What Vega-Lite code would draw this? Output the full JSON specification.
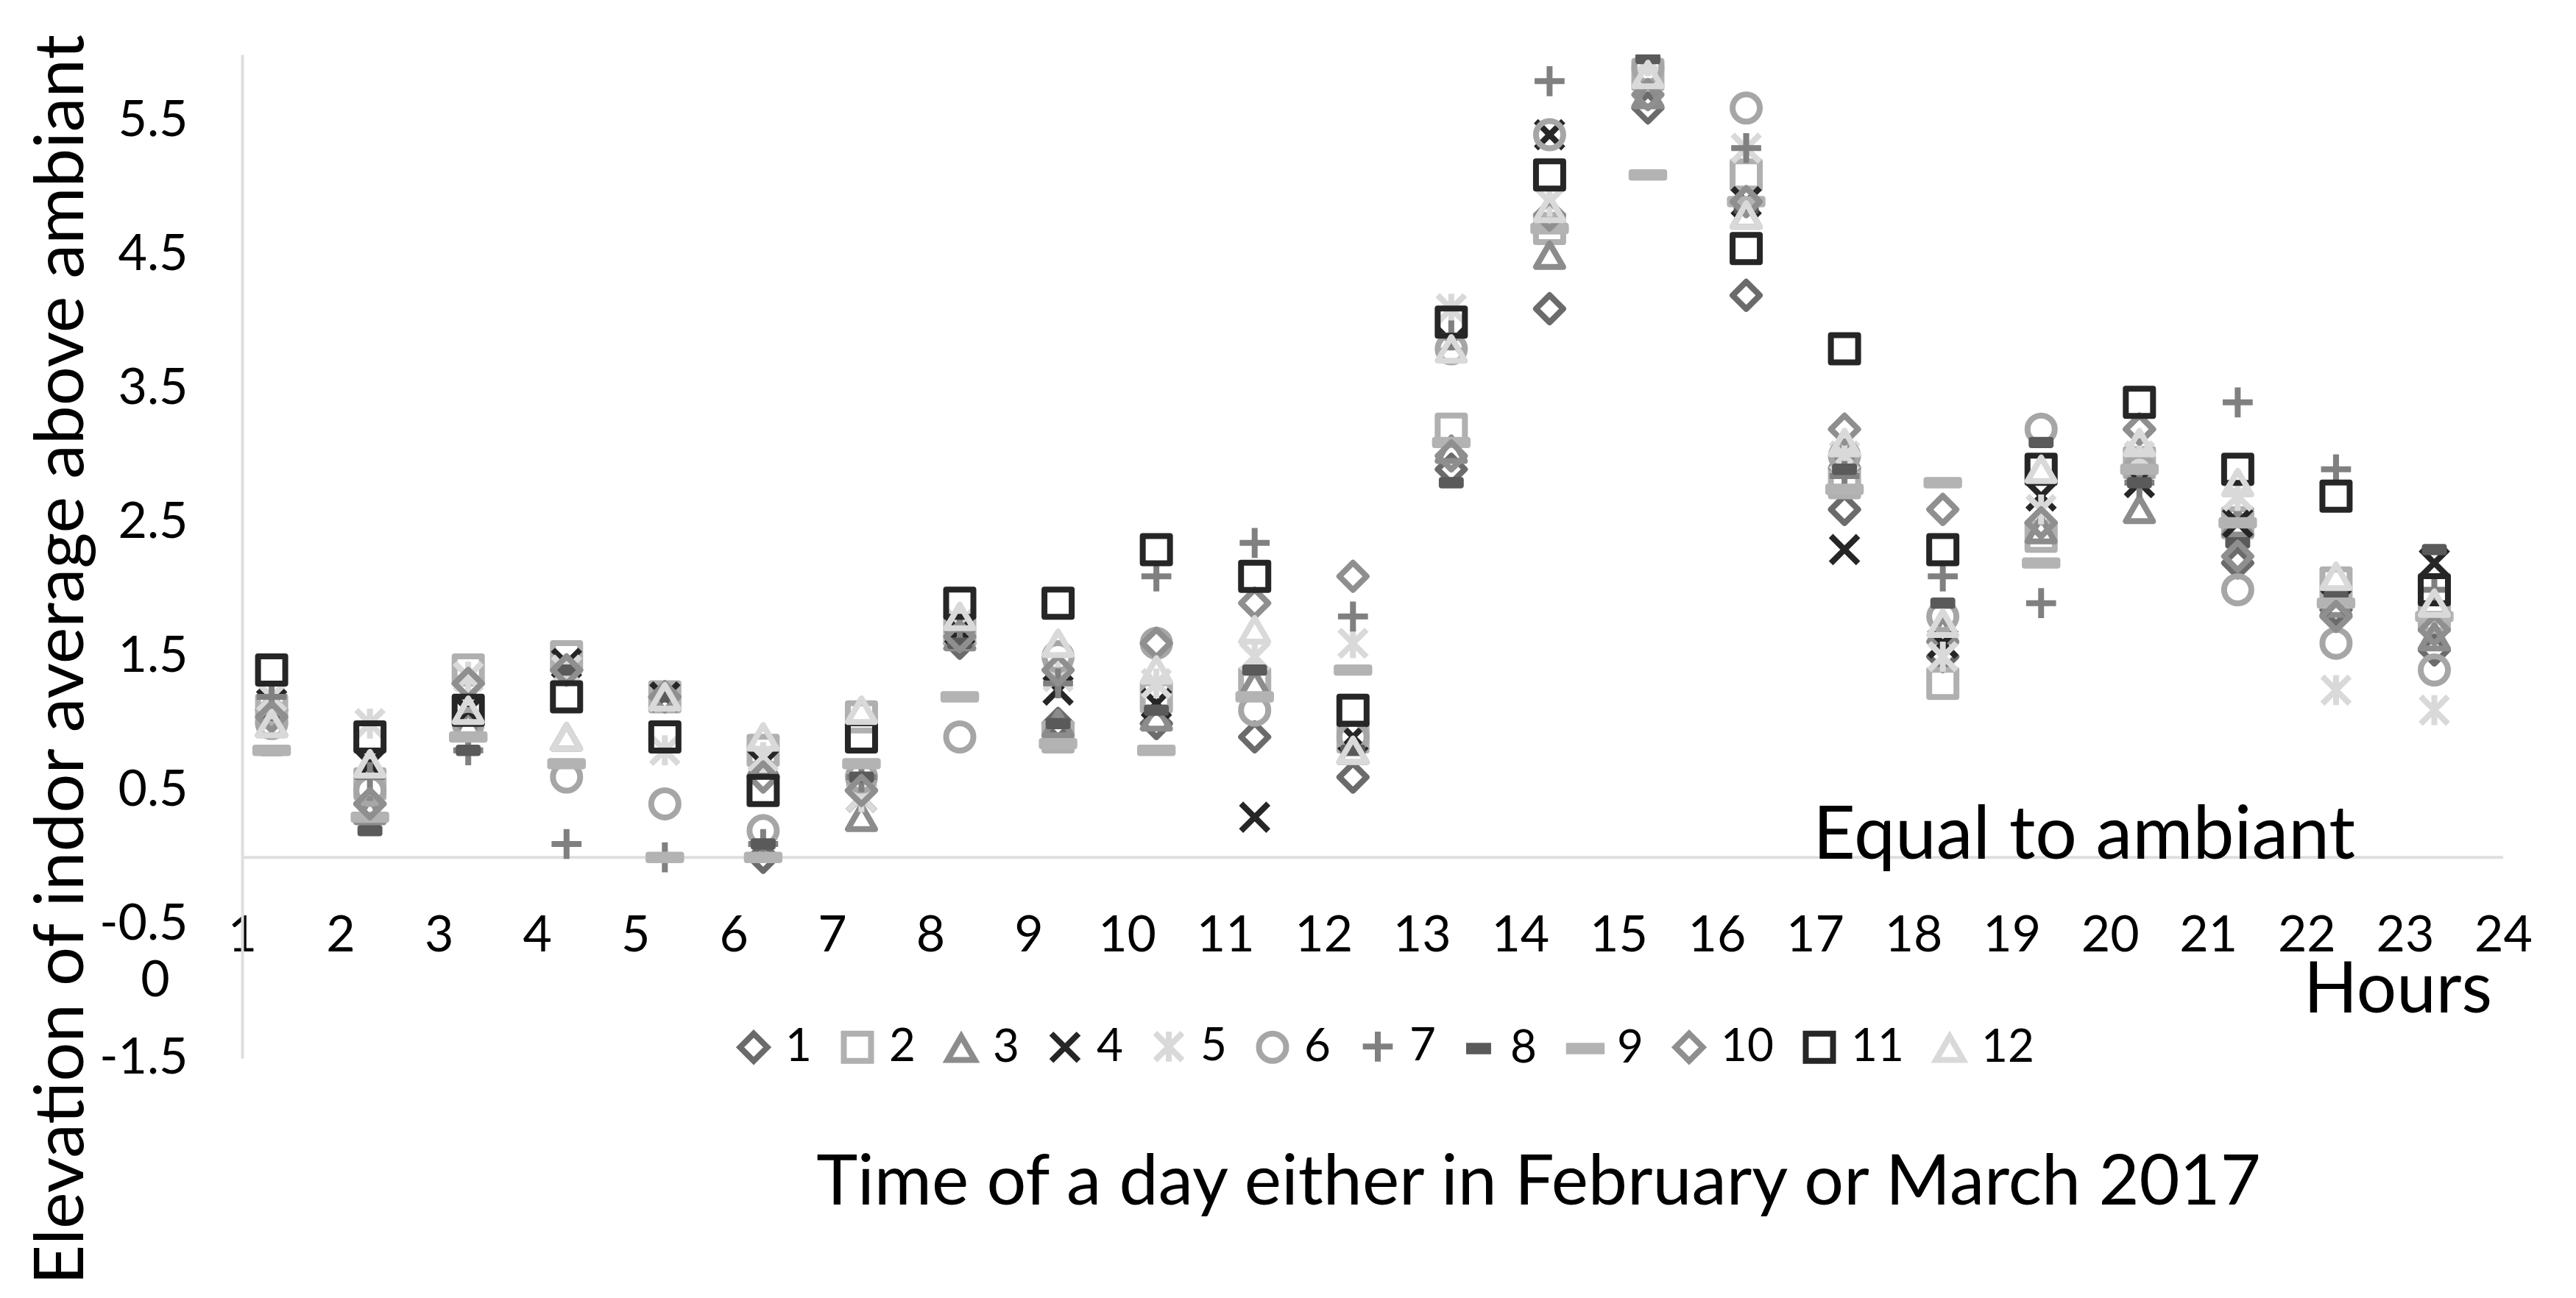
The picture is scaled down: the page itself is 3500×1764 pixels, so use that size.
{
  "$schema": "https://vega.github.io/schema/vega-lite/v6.json",
  "width": 3072,
  "height": 1364,
  "autosize": {"type": "none"},
  "padding": {"left": 329, "top": 74, "right": 99, "bottom": 326},
  "background": "white",
  "config": {
    "view": {"stroke": null},
    "font": "Lato",
    "text": {"font": "Lato", "color": "black"}
  },
  "datasets": {
    "temps": [
      {"h": 1.3, "1": 1.1, "2": 1.1, "3": 1.0, "4": 1.15, "5": 1.2, "6": 1.0, "7": 1.2, "8": 0.8, "9": 0.8, "10": 1.05, "11": 1.4, "12": 1.0},
      {"h": 2.3, "1": 0.4, "2": 0.55, "3": 0.35, "4": 0.7, "5": 1.0, "6": 0.5, "7": 0.6, "8": 0.2, "9": 0.3, "10": 0.4, "11": 0.9, "12": 0.7},
      {"h": 3.3, "1": 1.3, "2": 1.4, "3": 1.0, "4": 1.1, "5": 1.35, "6": 1.0, "7": 0.8, "8": 0.8, "9": 0.9, "10": 1.3, "11": 1.1, "12": 1.1},
      {"h": 4.3, "1": 1.4, "2": 1.5, "3": 0.9, "4": 1.45, "5": 1.4, "6": 0.6, "7": 0.1, "8": 1.4, "9": 0.7, "10": 1.4, "11": 1.2, "12": 0.9},
      {"h": 5.3, "1": 1.2, "2": 1.2, "3": 1.2, "4": 1.2, "5": 0.8, "6": 0.4, "7": 0.0, "8": 1.2, "9": 0.0, "10": 1.2, "11": 0.9, "12": 1.2},
      {"h": 6.3, "1": 0.0, "2": 0.8, "3": 0.7, "4": 0.7, "5": 0.75, "6": 0.2, "7": 0.1, "8": 0.1, "9": 0.0, "10": 0.6, "11": 0.5, "12": 0.9},
      {"h": 7.3, "1": 0.5, "2": 1.05, "3": 0.3, "4": 0.45, "5": 0.45, "6": 0.6, "7": 0.6, "8": 0.6, "9": 0.7, "10": 0.5, "11": 0.9, "12": 1.1},
      {"h": 8.3, "1": 1.6, "2": 1.7, "3": 1.65, "4": 1.7, "5": 1.75, "6": 0.9, "7": 1.7, "8": 1.6, "9": 1.2, "10": 1.65, "11": 1.9, "12": 1.8},
      {"h": 9.3, "1": 1.0, "2": 0.9, "3": 1.0, "4": 1.25, "5": 1.35, "6": 1.5, "7": 1.3, "8": 1.0, "9": 0.85, "10": 1.4, "11": 1.9, "12": 1.6},
      {"h": 10.3, "1": 1.0, "2": 1.2, "3": 1.05, "4": 1.15, "5": 1.3, "6": 1.6, "7": 2.1, "8": 1.1, "9": 0.8, "10": 1.6, "11": 2.3, "12": 1.4},
      {"h": 11.3, "1": 0.9, "2": 1.3, "3": 1.3, "4": 0.3, "5": 1.5, "6": 1.1, "7": 2.35, "8": 1.4, "9": 1.2, "10": 1.9, "11": 2.1, "12": 1.7},
      {"h": 12.3, "1": 0.6, "2": 0.9, "3": 0.8, "4": 0.9, "5": 1.6, "6": 0.9, "7": 1.8, "8": 0.8, "9": 1.4, "10": 2.1, "11": 1.1, "12": 0.8},
      {"h": 13.3, "1": 2.9, "2": 3.2, "3": 3.05, "4": 3.85, "5": 4.1, "6": 3.8, "7": 3.9, "8": 2.8, "9": 3.1, "10": 3.0, "11": 4.0, "12": 3.8},
      {"h": 14.3, "1": 4.1, "2": 4.7, "3": 4.5, "4": 5.4, "5": 4.9, "6": 5.4, "7": 5.8, "8": 4.7, "9": 4.7, "10": 4.8, "11": 5.1, "12": 4.85},
      {"h": 15.3, "1": 5.6, "2": 5.85, "3": 5.7, "4": 6.2, "5": 5.95, "6": 5.9, "7": 6.2, "8": 5.97, "9": 5.1, "10": 5.7, "11": 6.3, "12": 5.85},
      {"h": 16.3, "1": 4.2, "2": 5.1, "3": 4.8, "4": 4.9, "5": 5.3, "6": 5.6, "7": 5.3, "8": 4.85, "9": 4.9, "10": 4.9, "11": 4.55, "12": 4.8},
      {"h": 17.3, "1": 2.6, "2": 2.8, "3": 3.0, "4": 2.3, "5": 3.0, "6": 3.0, "7": 2.85, "8": 2.9, "9": 2.75, "10": 3.2, "11": 3.8, "12": 3.1},
      {"h": 18.3, "1": 1.5, "2": 1.3, "3": 1.7, "4": 1.6, "5": 1.5, "6": 1.8, "7": 2.1, "8": 1.9, "9": 2.8, "10": 2.6, "11": 2.3, "12": 1.75},
      {"h": 19.3, "1": 2.5, "2": 2.4, "3": 2.45, "4": 2.7, "5": 2.6, "6": 3.2, "7": 1.9, "8": 3.1, "9": 2.2, "10": 2.5, "11": 2.9, "12": 2.9},
      {"h": 20.3, "1": 3.2, "2": 2.95, "3": 2.6, "4": 2.8, "5": 3.0, "6": 2.9, "7": 2.8, "8": 2.8, "9": 2.9, "10": 3.2, "11": 3.4, "12": 3.1},
      {"h": 21.3, "1": 2.2, "2": 2.5, "3": 2.5, "4": 2.5, "5": 2.7, "6": 2.0, "7": 3.4, "8": 2.35, "9": 2.5, "10": 2.25, "11": 2.9, "12": 2.8},
      {"h": 22.3, "1": 1.85, "2": 2.05, "3": 1.9, "4": 1.9, "5": 1.25, "6": 1.6, "7": 2.9, "8": 1.95, "9": 1.9, "10": 1.8, "11": 2.7, "12": 2.1},
      {"h": 23.3, "1": 1.55, "2": 1.8, "3": 1.65, "4": 2.2, "5": 1.1, "6": 1.4, "7": 2.0, "8": 2.3, "9": 1.8, "10": 1.7, "11": 2.0, "12": 1.9}
    ]
  },
  "layer": [
    {
      "data": {"values": [{}]},
      "mark": {"type": "rule", "color": "#dedede", "strokeWidth": 4},
      "encoding": {
        "y": {"datum": 0, "type": "quantitative"}
      }
    },
    {
      "data": {"name": "temps"},
      "transform": [
        {"fold": ["1", "2", "3", "4", "5", "6", "7", "8", "9", "10", "11", "12"], "as": ["series", "v"]}
      ],
      "mark": {"type": "point", "filled": false, "strokeWidth": 8, "strokeJoin": "round", "opacity": 1, "clip": true},
      "encoding": {
        "x": {
          "field": "h",
          "type": "quantitative",
          "scale": {"domain": [1, 24], "nice": false, "zero": false},
          "axis": {
            "values": [1, 2, 3, 4, 5, 6, 7, 8, 9, 10, 11, 12, 13, 14, 15, 16, 17, 18, 19, 20, 21, 22, 23, 24],
            "format": "d",
            "labelOverlap": false,
            "labelBound": false,
            "labelFlush": false,
            "offset": -200,
            "domain": false,
            "ticks": false,
            "grid": false,
            "labelPadding": 0,
            "labelFont": "Lato",
            "labelFontSize": 68,
            "labelColor": "black",
            "title": "Time of a day either in February or March 2017",
            "titleFont": "Lato",
            "titleFontSize": 95,
            "titleFontWeight": "normal",
            "titleColor": "black",
            "titleX": 1761,
            "titleY": 398,
            "titleAlign": "center",
            "titleBaseline": "alphabetic"
          }
        },
        "y": {
          "field": "v",
          "type": "quantitative",
          "scale": {"domain": [-1.5, 6], "nice": false, "zero": false},
          "axis": {
            "values": [-1.5, -0.5, 0.5, 1.5, 2.5, 3.5, 4.5, 5.5],
            "labelExpr": "replace(format(datum.value, '.1f'), '\u2212', '-')",
            "labelOverlap": false,
            "labelBound": false,
            "labelFlush": false,
            "domain": true,
            "domainColor": "#dedede",
            "domainWidth": 4,
            "ticks": false,
            "grid": false,
            "labelPadding": 74,
            "labelFont": "Lato",
            "labelFontSize": 68,
            "labelColor": "black",
            "title": "Elevation of indor average above ambiant",
            "titleFont": "Lato",
            "titleFontSize": 94,
            "titleFontWeight": "normal",
            "titleColor": "black",
            "titleX": -217,
            "titleY": 822,
            "titleAlign": "center",
            "titleBaseline": "alphabetic"
          }
        },
        "color": {
          "field": "series",
          "type": "nominal",
          "scale": {
            "domain": ["1", "2", "3", "4", "5", "6", "7", "8", "9", "10", "11", "12"],
            "range": ["#6b6b6b", "#b0b0b0", "#8c8c8c", "#262626", "#d9d9d9", "#a6a6a6", "#808080", "#5a5a5a", "#b3b3b3", "#8f8f8f", "#262626", "#d9d9d9"]
          },
          "legend": {
            "orient": "none",
            "legendX": 664,
            "legendY": 1317,
            "direction": "horizontal",
            "title": null,
            "padding": 0,
            "labelFont": "Lato",
            "labelFontSize": 62,
            "labelColor": "black",
            "labelOffset": 12,
            "columnPadding": 27,
            "symbolSize": 1369,
            "symbolStrokeWidth": 8
          }
        },
        "shape": {
          "field": "series",
          "type": "nominal",
          "scale": {
            "domain": ["1", "2", "3", "4", "5", "6", "7", "8", "9", "10", "11", "12"],
            "range": [
              "diamond",
              "square",
              "triangle-up",
              "M-1,-1L1,1M-1,1L1,-1",
              "M-1,-1L1,1M-1,1L1,-1M0,-1.1L0,1.1",
              "circle",
              "M-1.1,0L1.1,0M0,-1.1L0,1.1",
              "M-0.7,-0.2L0.7,-0.2L0.7,0.2L-0.7,0.2Z",
              "M-1.2,-0.2L1.2,-0.2L1.2,0.2L-1.2,0.2Z",
              "diamond",
              "square",
              "triangle-up"
            ]
          },
          "legend": {
            "orient": "none",
            "legendX": 664,
            "legendY": 1317,
            "direction": "horizontal",
            "title": null,
            "padding": 0,
            "labelFont": "Lato",
            "labelFontSize": 62,
            "labelColor": "black",
            "labelOffset": 12,
            "columnPadding": 27,
            "symbolSize": 1369,
            "symbolStrokeWidth": 8
          }
        },
        "size": {"value": 1369}
      }
    },
    {
      "data": {"values": [{}]},
      "mark": {"type": "text", "text": "Equal to ambiant", "fontSize": 100, "align": "left", "baseline": "alphabetic", "dy": 2},
      "encoding": {
        "x": {"datum": 16.98, "type": "quantitative"},
        "y": {"datum": 0, "type": "quantitative"}
      }
    },
    {
      "data": {"values": [{}]},
      "mark": {"type": "text", "text": "Hours", "fontSize": 96, "align": "right", "baseline": "alphabetic", "dx": -15},
      "encoding": {
        "x": {"datum": 24, "type": "quantitative"},
        "y": {"datum": -1.16, "type": "quantitative"}
      }
    },
    {
      "data": {"values": [{}]},
      "mark": {"type": "text", "text": "0", "fontSize": 68, "align": "center", "baseline": "middle", "dx": -118},
      "encoding": {
        "x": {"datum": 1, "type": "quantitative"},
        "y": {"datum": -0.93, "type": "quantitative"}
      }
    }
  ]
}
